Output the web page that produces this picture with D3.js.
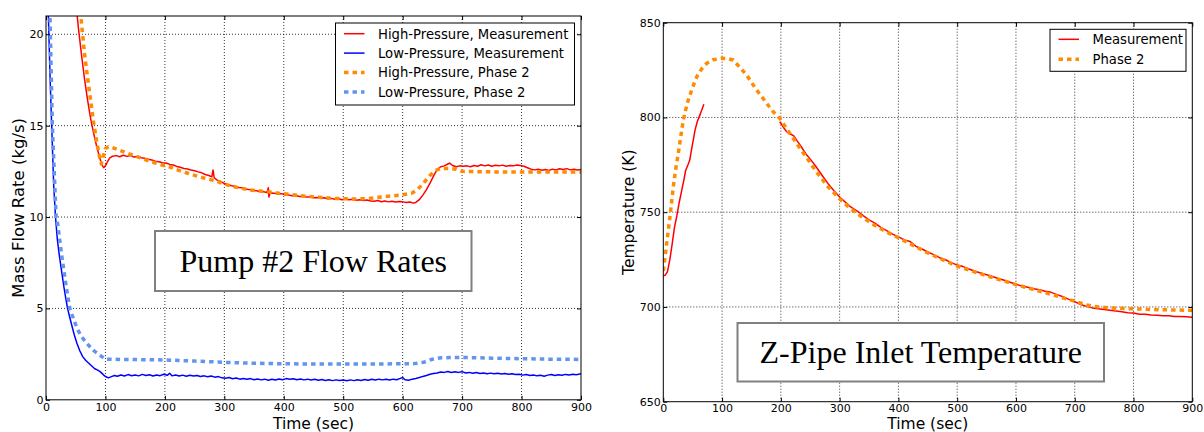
<!DOCTYPE html>
<html>
<head>
<meta charset="utf-8">
<script src="https://cdn.jsdelivr.net/npm/d3@7"></script>
<style>
  body { margin: 0; background: #fff; }
  svg text { font-family: "DejaVu Sans", sans-serif; fill: #000; }
  .axis text { font-size: 11px; }
  .axis line { stroke: #000; stroke-width: 1; }
  .axis path { display: none; }
  .grid line { stroke: #000; stroke-width: 0.8; stroke-dasharray: 1,2; }
  .label { font-size: 15.5px; }
  .legend text { font-size: 13.2px; }
  .boxtitle { font-family: "Liberation Serif", "Times New Roman", serif !important; font-size: 32px; }
</style>
</head>
<body>
<svg id="fig" width="1204" height="432"></svg>
<script>
// ---- data (time in sec, value) ----
var timeTicks = [0, 100, 200, 300, 400, 500, 600, 700, 800, 900];
var flowTicks = [0, 5, 10, 15, 20];
var tempTicks = [650, 700, 750, 800, 850];

var flowLegend = ["High-Pressure, Measurement", "Low-Pressure, Measurement", "High-Pressure, Phase 2", "Low-Pressure, Phase 2"];
var tempLegend = ["Measurement", "Phase 2"];

// high-pressure pump flow, measured
var hpMeas = [[40,27],[45,24],[50,21.8],[55,20.2],[60,18.8],[65,17.5],[70,16.4],[75,15.4],[80,14.6],[85,13.9],[90,13.3],[94,12.85],[97,12.7],[100,12.8],[103,13.0],[107,13.22],[112,13.33],[118,13.36],[124,13.3],[130,13.38],[136,13.32],[142,13.37],[148,13.28],[154,13.31],[160,13.24],[166,13.22],[172,13.16],[178,13.12],[184,13.05],[190,13.03],[196,12.97],[202,12.96],[208,12.88],[214,12.85],[220,12.77],[226,12.72],[232,12.66],[238,12.63],[244,12.57],[250,12.53],[256,12.47],[262,12.42],[268,12.33],[274,12.27],[279,12.2],[281,12.58],[283,12.15],[288,12.02],[294,11.95],[300,11.83],[306,11.78],[312,11.71],[318,11.68],[324,11.62],[330,11.6],[336,11.54],[342,11.5],[348,11.46],[354,11.44],[360,11.4],[366,11.38],[372,11.34],[374,11.6],[375,11.1],[377,11.32],[384,11.3],[390,11.26],[396,11.28],[402,11.22],[408,11.2],[414,11.16],[420,11.18],[426,11.12],[432,11.14],[438,11.09],[444,11.1],[450,11.06],[456,11.07],[462,11.02],[468,11.05],[474,11.0],[480,11.02],[486,10.97],[492,11.0],[498,10.95],[504,10.98],[510,10.94],[516,10.97],[522,10.92],[528,10.95],[534,10.9],[540,10.93],[546,10.88],[552,10.86],[558,10.9],[564,10.84],[570,10.88],[576,10.83],[582,10.86],[588,10.82],[594,10.85],[600,10.83],[606,10.8],[612,10.82],[618,10.76],[622,10.8],[628,10.95],[634,11.2],[640,11.5],[646,11.85],[652,12.25],[658,12.6],[664,12.75],[670,12.8],[676,12.9],[679,12.95],[684,12.82],[690,12.75],[696,12.8],[702,12.78],[708,12.8],[714,12.75],[720,12.82],[726,12.78],[732,12.86],[738,12.8],[744,12.85],[750,12.78],[756,12.83],[762,12.8],[768,12.84],[774,12.78],[780,12.82],[786,12.8],[792,12.85],[798,12.82],[804,12.78],[810,12.7],[816,12.62],[822,12.58],[828,12.62],[834,12.56],[840,12.6],[846,12.55],[852,12.62],[858,12.58],[864,12.64],[870,12.6],[876,12.65],[882,12.58],[888,12.62],[894,12.57],[900,12.6]];

// low-pressure pump flow, measured
var lpMeas = [[0,24],[4,21],[7,17.5],[10,14.6],[13,11.7],[16,10.0],[19,8.8],[22,8.0],[26,7.1],[30,6.2],[33,5.6],[36,5.05],[40,4.5],[44,4.0],[48,3.5],[52,3.1],[57,2.67],[62,2.35],[67,2.15],[72,2.0],[77,1.85],[82,1.7],[87,1.62],[91,1.54],[95,1.42],[98,1.32],[101,1.26],[105,1.2],[110,1.27],[115,1.33],[120,1.29],[126,1.36],[132,1.3],[138,1.38],[144,1.32],[150,1.36],[156,1.31],[162,1.39],[168,1.33],[174,1.37],[180,1.3],[186,1.36],[192,1.32],[198,1.4],[204,1.34],[208,1.45],[212,1.31],[218,1.36],[224,1.3],[230,1.35],[236,1.29],[242,1.34],[248,1.3],[254,1.33],[260,1.27],[266,1.31],[272,1.26],[278,1.3],[284,1.24],[290,1.27],[296,1.2],[302,1.18],[308,1.22],[314,1.15],[320,1.19],[326,1.13],[332,1.17],[338,1.12],[344,1.16],[350,1.1],[356,1.14],[362,1.09],[368,1.13],[374,1.07],[380,1.12],[386,1.08],[392,1.14],[398,1.1],[404,1.16],[410,1.12],[416,1.15],[422,1.1],[428,1.14],[434,1.09],[440,1.13],[446,1.08],[452,1.12],[458,1.07],[464,1.11],[470,1.06],[476,1.1],[482,1.05],[488,1.09],[494,1.06],[500,1.08],[506,1.04],[512,1.09],[518,1.05],[524,1.1],[530,1.06],[536,1.11],[542,1.07],[548,1.12],[554,1.08],[560,1.13],[566,1.09],[572,1.12],[578,1.08],[584,1.13],[590,1.1],[596,1.17],[600,1.22],[604,1.1],[610,1.07],[616,1.13],[622,1.17],[628,1.22],[634,1.28],[640,1.33],[646,1.4],[652,1.44],[658,1.47],[664,1.52],[670,1.5],[676,1.55],[682,1.49],[688,1.53],[694,1.5],[700,1.54],[706,1.47],[712,1.5],[718,1.45],[724,1.49],[730,1.44],[736,1.47],[742,1.43],[748,1.46],[754,1.42],[760,1.45],[766,1.41],[772,1.44],[778,1.4],[784,1.43],[790,1.38],[796,1.4],[802,1.35],[808,1.38],[814,1.33],[820,1.36],[826,1.31],[832,1.34],[838,1.29],[844,1.35],[850,1.38],[856,1.33],[862,1.37],[868,1.34],[874,1.39],[880,1.36],[886,1.4],[892,1.37],[900,1.42]];

// high-pressure pump flow, Phase 2 calculation
var hpPhase2 = [[50,25],[55,22.5],[60,20.5],[65,18.9],[70,17.6],[75,16.4],[80,15.2],[85,14.2],[90,13.3],[93,12.9],[96,13.3],[100,13.75],[105,13.85],[110,13.82],[120,13.7],[130,13.58],[140,13.45],[150,13.35],[160,13.22],[170,13.1],[180,13.0],[190,12.9],[200,12.8],[210,12.72],[220,12.6],[230,12.48],[240,12.38],[250,12.28],[260,12.18],[270,12.1],[280,12.02],[290,11.92],[300,11.8],[320,11.63],[340,11.5],[360,11.42],[380,11.35],[400,11.27],[420,11.2],[440,11.13],[460,11.08],[480,11.03],[500,11.0],[520,10.99],[540,11.01],[560,11.08],[580,11.15],[600,11.22],[615,11.3],[625,11.5],[635,11.85],[645,12.25],[655,12.55],[665,12.66],[680,12.66],[690,12.62],[700,12.5],[750,12.47],[800,12.47],[850,12.47],[900,12.47]];

// low-pressure pump flow, Phase 2 calculation
var lpPhase2 = [[0,26],[6.7,21],[10.7,15],[17,10],[19,9.8],[26,8.0],[34,6.2],[40,5.0],[47,4.36],[53,3.85],[60,3.45],[67,3.15],[74,2.9],[80,2.7],[87,2.52],[94,2.36],[100,2.22],[150,2.2],[200,2.18],[250,2.12],[300,2.05],[350,2.0],[400,1.97],[450,1.96],[500,1.96],[550,1.96],[600,1.97],[620,1.98],[635,2.05],[650,2.22],[665,2.3],[700,2.32],[750,2.28],[800,2.25],[850,2.22],[900,2.21]];

// Z-pipe inlet temperature, measured (gap between 70 and 198 s)
var tempMeas = [[0,716.5],[3,716.7],[7,718.5],[11,724.7],[15,733],[19,742],[23,748],[27,755],[31,761],[35,767],[38,772],[42,775],[45,777.5],[48,783],[51,788],[54,793.3],[58,798],[61,800.3],[65,803.5],[69,807],[130,null],[198,797.7],[202,796],[206,794],[210,792.5],[214,791.5],[218,791],[222,790.3],[228,787.5],[235,784.4],[242,781],[250,778],[260,774],[270,769.5],[280,765.2],[290,761.5],[300,758],[310,755.2],[320,752.5],[330,750.6],[340,748.2],[350,746],[360,744.2],[370,742],[380,740.3],[390,738.4],[400,737],[410,735.4],[420,734.5],[430,732],[440,730.6],[450,729],[460,727.6],[470,726],[480,724.9],[490,723.4],[500,722.1],[510,721.3],[520,720],[530,718.8],[540,717.9],[550,717],[560,716.1],[570,715],[580,714.1],[590,713],[600,712],[610,711],[620,710.4],[630,709.6],[640,709.1],[650,708.3],[660,707.7],[670,706.5],[680,705.4],[690,704],[700,702.8],[710,701.3],[720,700.3],[730,699.5],[740,699.1],[750,698.6],[760,698.3],[770,697.8],[780,697.5],[790,697],[800,696.8],[810,696.2],[820,696.1],[830,695.7],[840,695.6],[850,695.3],[860,695.3],[870,695.0],[880,694.9],[890,694.8],[900,694.6]];

// Z-pipe inlet temperature, Phase 2 calculation
var tempPhase2 = [[0,719],[4,729],[8.5,740.5],[13,752],[17,763.4],[21,772.5],[25.5,781],[30,790.5],[34,798.6],[38,804],[42.5,809.2],[50,816],[57,821.5],[65,825.5],[74,828.6],[85,830.5],[100,831.2],[110,831],[119,830.3],[130,826.5],[142,822.3],[150,818.5],[159,814.4],[168,810.8],[176,807.4],[187,803],[198.5,799.4],[210,794],[220,789.5],[227,786.2],[237,781.8],[246.7,777.5],[260,771.5],[280,763.5],[300,757],[320,751.5],[340,747],[360,743],[380,739.5],[400,736.5],[425,732.5],[450,728.5],[475,725],[500,721.5],[550,716.5],[600,711.8],[650,707.5],[700,703],[720,701],[740,700],[760,699.5],[800,699],[850,698.5],[900,698.2]];

var svg = d3.select("#fig");

/**
 * draws one matplotlib-like panel
 */
function drawPanel(cfg) {
  var x = d3.scaleLinear().domain([0, 900]).range([cfg.left, cfg.right]);
  var y = d3.scaleLinear().domain(cfg.yDomain).range([cfg.bottom, cfg.top]);

  var g = svg.append("g");

  // clip
  svg.append("clipPath").attr("id", cfg.id + "-clip")
    .append("rect")
    .attr("x", cfg.left).attr("y", cfg.top)
    .attr("width", cfg.right - cfg.left).attr("height", cfg.bottom - cfg.top);

  // dotted grid (inner ticks only, the frame covers the edges)
  var grid = g.append("g").attr("class", "grid");
  grid.selectAll(".gx").data(timeTicks.slice(1, -1)).enter().append("line")
    .attr("x1", function(d){ return x(d); }).attr("x2", function(d){ return x(d); })
    .attr("y1", cfg.top).attr("y2", cfg.bottom);
  grid.selectAll(".gy").data(cfg.yTicks.filter(function(d){ return d > cfg.yDomain[0] && d < cfg.yDomain[1]; }))
    .enter().append("line")
    .attr("y1", function(d){ return y(d); }).attr("y2", function(d){ return y(d); })
    .attr("x1", cfg.left).attr("x2", cfg.right);

  // series
  var line = d3.line()
    .defined(function(d){ return d[1] != null; })
    .x(function(d){ return x(d[0]); })
    .y(function(d){ return y(d[1]); });

  var lines = g.append("g").attr("clip-path", "url(#" + cfg.id + "-clip)");
  cfg.series.forEach(function(s) {
    lines.append("path")
      .datum(s.data)
      .attr("d", line)
      .attr("fill", "none")
      .attr("stroke", s.color)
      .attr("stroke-width", s.dashed ? 3.5 : 1.5)
      .attr("stroke-dasharray", s.dashed ? "4.5,4" : null)
      .attr("stroke-linejoin", "round");
  });

  // axes, ticks pointing inwards on all four sides
  g.append("g").attr("class", "axis")
    .attr("transform", "translate(0," + cfg.bottom + ")")
    .call(d3.axisBottom(x).tickValues(timeTicks).tickSizeInner(-4).tickSizeOuter(0).tickPadding(3));
  g.append("g").attr("class", "axis")
    .attr("transform", "translate(0," + cfg.top + ")")
    .call(d3.axisTop(x).tickValues(timeTicks).tickSizeInner(-4).tickSizeOuter(0).tickFormat(""));
  g.append("g").attr("class", "axis")
    .attr("transform", "translate(" + cfg.left + ",0)")
    .call(d3.axisLeft(y).tickValues(cfg.yTicks).tickSizeInner(-4).tickSizeOuter(0).tickPadding(2.5));
  g.append("g").attr("class", "axis")
    .attr("transform", "translate(" + cfg.right + ",0)")
    .call(d3.axisRight(y).tickValues(cfg.yTicks).tickSizeInner(-4).tickSizeOuter(0).tickFormat(""));

  // frame
  g.append("rect")
    .attr("x", cfg.left).attr("y", cfg.top)
    .attr("width", cfg.right - cfg.left).attr("height", cfg.bottom - cfg.top)
    .attr("fill", "none").attr("stroke", "#000").attr("stroke-width", 1);

  // axis labels
  g.append("text").attr("class", "label")
    .attr("x", (cfg.left + cfg.right) / 2).attr("y", 428.5)
    .attr("text-anchor", "middle")
    .text("Time (sec)");
  g.append("text").attr("class", "label")
    .attr("transform", "translate(" + cfg.yLabelX + "," + (cfg.top + cfg.bottom) / 2 + ") rotate(-90)")
    .attr("text-anchor", "middle")
    .style("font-size", cfg.yLabelSize)
    .text(cfg.yLabel);

  // legend
  var lg = g.append("g").attr("class", "legend");
  lg.append("rect")
    .attr("x", cfg.legend.x).attr("y", cfg.legend.y)
    .attr("width", cfg.legend.w).attr("height", cfg.legend.h)
    .attr("fill", "#fff").attr("stroke", "#000").attr("stroke-width", 1);
  cfg.series.forEach(function(s, i) {
    var cy = cfg.legend.y + cfg.legend.first + i * cfg.legend.step;
    lg.append("line")
      .attr("x1", cfg.legend.x + 8.5).attr("x2", cfg.legend.x + 29)
      .attr("y1", cy).attr("y2", cy)
      .attr("stroke", s.color)
      .attr("stroke-width", s.dashed ? 3.5 : 1.5)
      .attr("stroke-dasharray", s.dashed ? "4.5,4" : null);
    lg.append("text")
      .attr("x", cfg.legend.x + 42.5).attr("y", cy + 4.8)
      .text(cfg.legendLabels[i]);
  });

  // boxed title
  var tb = cfg.titleBox;
  g.append("rect")
    .attr("x", tb.x).attr("y", tb.y).attr("width", tb.w).attr("height", tb.h)
    .attr("fill", "#fff").attr("stroke", "#808080").attr("stroke-width", 2);
  g.append("text").attr("class", "boxtitle")
    .attr("x", tb.x + tb.w / 2).attr("y", tb.y + tb.h / 2 + 11)
    .attr("text-anchor", "middle")
    .text(tb.text);
}

drawPanel({
  id: "flow",
  left: 46, right: 581, top: 16, bottom: 399.8,
  yDomain: [0, 21], yTicks: flowTicks,
  yLabel: "Mass Flow Rate (kg/s)", yLabelX: 24, yLabelSize: "16.5px",
  series: [
    {data: hpMeas, color: "#ff0000", dashed: false},
    {data: lpMeas, color: "#0000ff", dashed: false},
    {data: hpPhase2, color: "#ff8c00", dashed: true},
    {data: lpPhase2, color: "#6495ed", dashed: true}
  ],
  legendLabels: flowLegend,
  legend: {x: 335.5, y: 23, w: 239, h: 82, first: 10.7, step: 19.4},
  titleBox: {x: 155, y: 231, w: 316.5, h: 60, text: "Pump #2 Flow Rates"}
});

drawPanel({
  id: "temp",
  left: 663.3, right: 1192.3, top: 22.7, bottom: 401.7,
  yDomain: [650, 850], yTicks: tempTicks,
  yLabel: "Temperature (K)", yLabelX: 633.5, yLabelSize: "15.5px",
  series: [
    {data: tempMeas, color: "#ff0000", dashed: false},
    {data: tempPhase2, color: "#ff8c00", dashed: true}
  ],
  legendLabels: tempLegend,
  legend: {x: 1050, y: 29.3, w: 136, h: 42, first: 10, step: 20},
  titleBox: {x: 737.5, y: 323, w: 366.5, h: 58.5, text: "Z-Pipe Inlet Temperature"}
});
</script>
</body>
</html>
